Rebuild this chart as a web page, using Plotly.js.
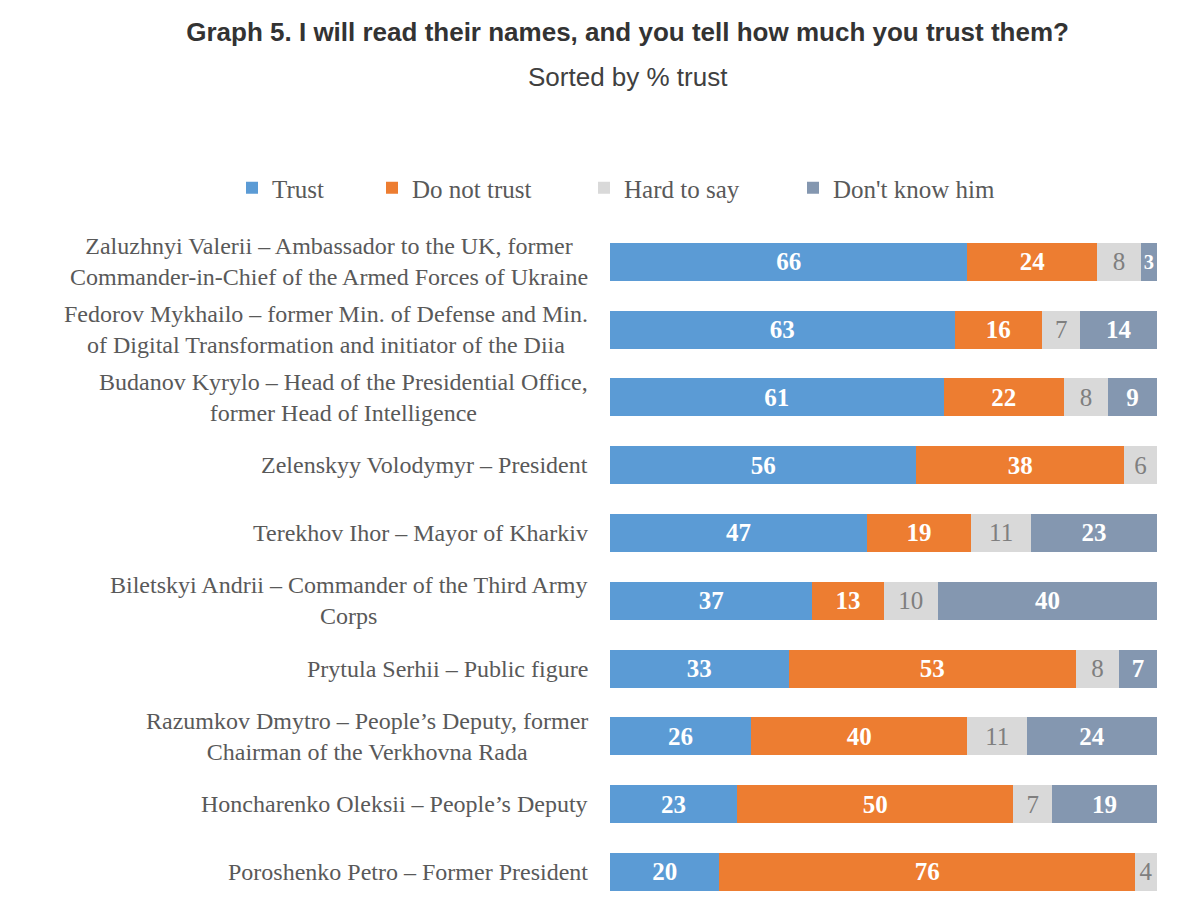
<!DOCTYPE html>
<html>
<head>
<meta charset="utf-8">
<script src="https://cdn.plot.ly/plotly-3.0.1.min.js"></script>
<style>
  html, body { margin: 0; padding: 0; background: #fff; }
  #chart { width: 1200px; height: 901px; }
</style>
</head>
<body>
<div id="chart"></div>
<script>
// people, top row first
const people = [
  'Zaluzhnyi Valerii – Ambassador to the UK, former<br>Commander-in-Chief of the Armed Forces of Ukraine',
  'Fedorov Mykhailo – former Min. of Defense and Min.<br>of Digital Transformation and initiator of the Diia',
  'Budanov Kyrylo – Head of the Presidential Office,<br>former Head of Intelligence',
  'Zelenskyy Volodymyr – President',
  'Terekhov Ihor – Mayor of Kharkiv',
  'Biletskyi Andrii – Commander of the Third Army<br>Corps',
  'Prytula Serhii – Public figure',
  'Razumkov Dmytro – People’s Deputy, former<br>Chairman of the Verkhovna Rada',
  'Honcharenko Oleksii – People’s Deputy',
  'Poroshenko Petro – Former President'
];

const trust      = [66, 63, 61, 56, 47, 37, 33, 26, 23, 20];
const noTrust    = [24, 16, 22, 38, 19, 13, 53, 40, 50, 76];
const hardToSay  = [8, 7, 8, 6, 11, 10, 8, 11, 7, 4];
const dontKnow   = [3, 14, 9, 0, 23, 40, 7, 24, 19, 0];

const seriesNames = ['Trust', 'Do not trust', 'Hard to say', "Don't know him"];
const seriesColors = ['#5B9BD5', '#ED7D31', '#D9D9D9', '#8497B0'];
const labelColors = ['#ffffff', '#ffffff', '#7F7F7F', '#ffffff'];
const labelWeights = ['bold', 'bold', 'normal', 'bold'];
// one legend per series so each entry sits where the original puts it
const legendIds = ['legend', 'legend2', 'legend3', 'legend4'];
const legendSquareX = [252, 392, 604, 813];

const ids = people.map((p, i) => 'r' + i);
const serif = '"Liberation Serif", "Times New Roman", serif';
const sans = '"Liberation Sans", Arial, sans-serif';

const traces = [trust, noTrust, hardToSay, dontKnow].map((vals, k) => ({
  type: 'bar',
  orientation: 'h',
  name: seriesNames[k],
  legend: legendIds[k],
  y: ids,
  x: vals,
  text: vals.map(String),
  texttemplate: '%{text}',
  textposition: 'inside',
  insidetextanchor: 'middle',
  textangle: 0,
  insidetextfont: { family: serif, size: 25, color: labelColors[k], weight: labelWeights[k] },
  marker: { color: seriesColors[k], line: { width: 0 } },
  hoverinfo: 'skip'
}));

const annotations = people.map((p, i) => ({
  xref: 'paper', yref: 'y',
  x: -0.0366, y: ids[i],
  xanchor: 'right', yanchor: 'middle',
  align: 'center',
  text: p,
  showarrow: false,
  font: { family: serif, size: 24, color: '#595959' }
}));

annotations.push({
  xref: 'paper', yref: 'paper',
  x: 0.0329, y: 1.2244,
  xanchor: 'center', yanchor: 'middle',
  text: 'Sorted by % trust',
  showarrow: false,
  font: { family: sans, size: 26, color: '#404040' }
});

const layout = {
  width: 1200,
  height: 901,
  paper_bgcolor: '#ffffff',
  plot_bgcolor: '#ffffff',
  margin: { l: 610, r: 43, t: 228, b: 0 },
  title: {
    text: 'Graph 5. I will read their names, and you tell how much you trust them?',
    font: { family: sans, size: 26, color: '#333333', weight: 'bold' },
    x: 0.523, xanchor: 'center',
    yref: 'container', y: 1 - 32 / 901, yanchor: 'middle'
  },
  barmode: 'stack',
  barnorm: 'percent',
  bargap: 0.44,
  xaxis: {
    range: [0, 100],
    visible: false,
    fixedrange: true
  },
  yaxis: {
    type: 'category',
    categoryorder: 'array',
    categoryarray: ids,
    range: [9.43, -0.5],
    showticklabels: false,
    showgrid: false,
    zeroline: false,
    showline: false,
    ticks: ''
  },
  showlegend: true,
  annotations: annotations
};

legendIds.forEach((lid, k) => {
  layout[lid] = {
    orientation: 'h',
    xref: 'paper', yref: 'paper',
    x: (legendSquareX[k] - 20 - 610) / 547, xanchor: 'left',
    y: (901 - 188) / 673, yanchor: 'middle',
    font: { family: serif, size: 25, color: '#595959' },
    itemclick: false,
    bgcolor: 'rgba(0,0,0,0)'
  };
});

Plotly.newPlot('chart', traces, layout, { displayModeBar: false, staticPlot: true });
</script>
</body>
</html>
